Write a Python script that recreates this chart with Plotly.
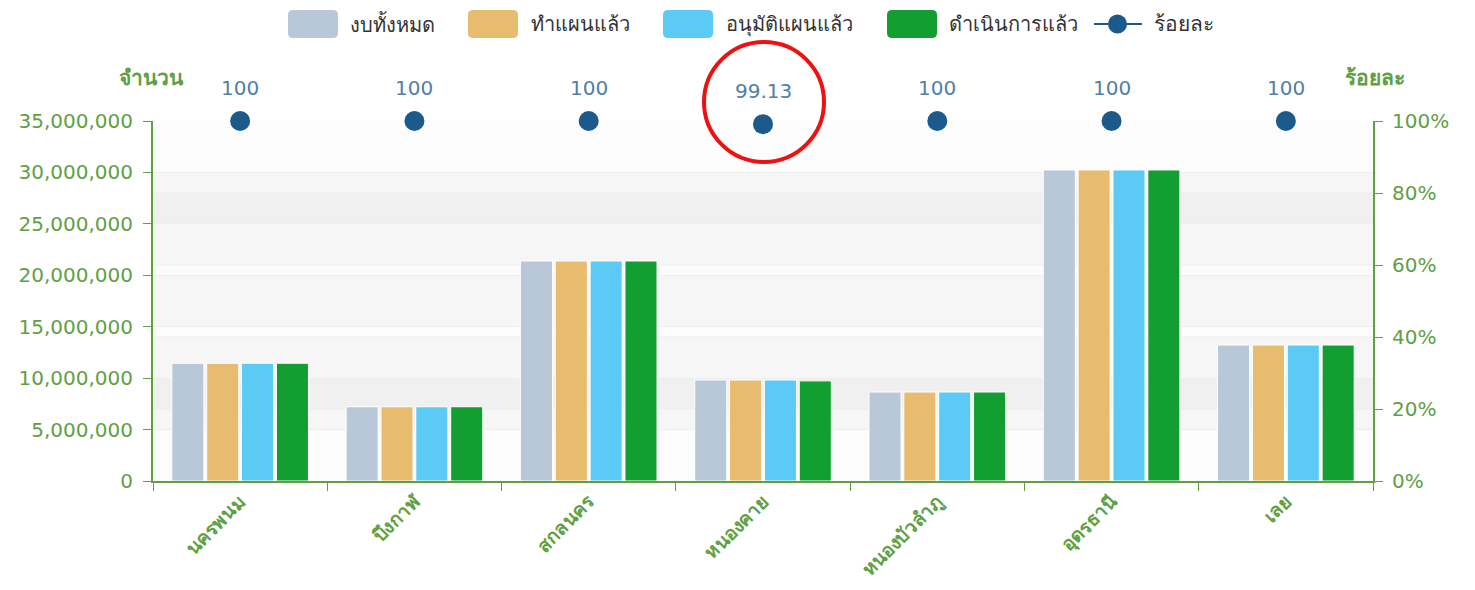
import plotly.graph_objects as go

provinces = ["นครพนม", "บึงกาฬ", "สกลนคร", "หนองคาย", "หนองบัวลำภู", "อุดรธานี", "เลย"]
budget_total = [11450000, 7220000, 21390000, 9820000, 8650000, 30240000, 13220000]
planned = [11450000, 7220000, 21390000, 9820000, 8650000, 30240000, 13220000]
approved = [11450000, 7220000, 21390000, 9820000, 8650000, 30240000, 13220000]
executed = [11450000, 7220000, 21390000, 9735000, 8650000, 30240000, 13220000]
percent = [100, 100, 100, 99.13, 100, 100, 100]
percent_labels = ["100", "100", "100", "99.13", "100", "100", "100"]

series_names = ["งบทั้งหมด", "ทำแผนแล้ว", "อนุมัติแผนแล้ว", "ดำเนินการแล้ว"]
pct_name = "ร้อยละ"
series_vals = [budget_total, planned, approved, executed]
colors = ["#b8c8d9", "#e8bc6e", "#5bcbf5", "#139e32"]
pct_color = "#1b5a8a"
green = "#5fa044"
font_family = "DejaVu Sans, Noto Sans, sans-serif"

# plot area in screenshot pixels (page has 8px body margin)
PL, PR, PT, PB = 153, 1373, 121, 481


def px(x):
    return (x - PL) / (PR - PL)


def py(y):
    return (PB - y) / (PB - PT)


fig = go.Figure()
for name, vals, c in zip(series_names, series_vals, colors):
    fig.add_trace(go.Bar(x=provinces, y=vals, name=name, showlegend=False,
                         marker=dict(color=c, line=dict(color="white", width=1)), yaxis="y"))

fig.add_trace(go.Scatter(x=provinces, y=percent, mode="markers", name=pct_name, showlegend=False,
                         marker=dict(size=20, color=pct_color), yaxis="y2", cliponaxis=False))

shapes = []
for lo, hi in [(5e6, 10e6), (15e6, 20e6), (25e6, 30e6)]:
    shapes.append(dict(type="rect", xref="paper", yref="y", x0=0, x1=1, y0=lo, y1=hi,
                       fillcolor="rgba(0,0,0,0.022)", line=dict(width=0), layer="below"))
for lo, hi in [(20, 40), (60, 80)]:
    shapes.append(dict(type="rect", xref="paper", yref="y2", x0=0, x1=1, y0=lo, y1=hi,
                       fillcolor="rgba(0,0,0,0.022)", line=dict(width=0), layer="below"))
for v in [20, 40, 60, 80]:
    shapes.append(dict(type="line", xref="paper", yref="y2", x0=0, x1=1, y0=v, y1=v,
                       line=dict(color="#eeeeee", width=1), layer="below"))

# red highlight circle
shapes.append(dict(type="circle", xref="paper", yref="paper", x0=px(704), x1=px(824),
                   y0=py(162), y1=py(42), line=dict(color="#ee1111", width=4)))


def rounded_rect(x0, y0, x1, y1, r):
    pts = [
        f"M {px(x0 + r)},{py(y0)}",
        f"L {px(x1 - r)},{py(y0)}",
        f"Q {px(x1)},{py(y0)} {px(x1)},{py(y0 + r)}",
        f"L {px(x1)},{py(y1 - r)}",
        f"Q {px(x1)},{py(y1)} {px(x1 - r)},{py(y1)}",
        f"L {px(x0 + r)},{py(y1)}",
        f"Q {px(x0)},{py(y1)} {px(x0)},{py(y1 - r)}",
        f"L {px(x0)},{py(y0 + r)}",
        f"Q {px(x0)},{py(y0)} {px(x0 + r)},{py(y0)}",
        "Z",
    ]
    return " ".join(pts)


# manual legend
legend_swatch_x = [288, 468, 663, 887]
legend_text_x = [348, 529, 724, 947]
annotations = []
LY0, LY1 = 10, 38
LYC = 24
for sx, tx, name, c in zip(legend_swatch_x, legend_text_x, series_names, colors):
    shapes.append(dict(type="path", xref="paper", yref="paper", path=rounded_rect(sx, LY0, sx + 50, LY1, 5),
                       fillcolor=c, line=dict(width=0)))
    annotations.append(dict(text=name, xref="paper", yref="paper", x=px(tx), y=py(LYC), xanchor="left",
                            yanchor="middle", showarrow=False, font=dict(size=20, color="#333333")))
shapes.append(dict(type="line", xref="paper", yref="paper", x0=px(1094), x1=px(1142), y0=py(LYC), y1=py(LYC),
                   line=dict(color=pct_color, width=2)))
shapes.append(dict(type="circle", xref="paper", yref="paper", x0=px(1108), x1=px(1127), y0=py(LYC + 9.5),
                   y1=py(LYC - 9.5), fillcolor=pct_color, line=dict(width=0)))
annotations.append(dict(text=pct_name, xref="paper", yref="paper", x=px(1152), y=py(LYC), xanchor="left",
                        yanchor="middle", showarrow=False, font=dict(size=21, color="#333333")))

# percent labels above markers
for p, v, lab in zip(provinces, percent, percent_labels):
    annotations.append(dict(text=lab, x=p, y=v, xref="x", yref="y2", yshift=33, showarrow=False,
                            xanchor="center", yanchor="middle", font=dict(size=20, color="#4f7fa6")))

# axis titles
annotations.append(dict(text="<b>จำนวน</b>", xref="paper", yref="paper", x=px(151), y=py(78),
                        xanchor="center", yanchor="middle", showarrow=False, font=dict(size=21, color=green)))
annotations.append(dict(text="<b>ร้อยละ</b>", xref="paper", yref="paper", x=px(1375), y=py(78),
                        xanchor="center", yanchor="middle", showarrow=False, font=dict(size=21, color=green)))

W, H = 1459, 574
ml, mt = PL - 8, PT - 8
mr = W - ml - (PR - PL)
mb = H - mt - (PB - PT)

fig.update_layout(
    width=W, height=H,
    margin=dict(l=ml, r=mr, t=mt, b=mb, autoexpand=False),
    paper_bgcolor="white", plot_bgcolor="#fcfcfc",
    font=dict(family=font_family, color="#333333"),
    barmode="group", bargap=0.2, bargroupgap=0.08,
    showlegend=False,
    shapes=shapes,
    annotations=annotations,
    xaxis=dict(showline=True, linecolor=green, linewidth=2, ticks="outside", tickson="boundaries",
               ticklen=8, tickcolor=green, tickangle=-45,
               tickfont=dict(size=19, color=green, weight="bold"), showgrid=False),
    yaxis=dict(range=[0, 35e6], dtick=5e6, tickformat=",", showline=True, linecolor=green, linewidth=2,
               ticks="outside", ticklen=8, tickcolor=green, tickfont=dict(size=20, color=green),
               ticklabelstandoff=6, gridcolor="#eeeeee", zeroline=False),
    yaxis2=dict(range=[0, 100], dtick=20, ticksuffix="%", overlaying="y", side="right", showline=True,
                linecolor=green, linewidth=2, ticks="outside", ticklen=8, tickcolor=green,
                tickfont=dict(size=20, color=green), ticklabelstandoff=5, showgrid=False, zeroline=False),
)

fig.write_html("out.html")
